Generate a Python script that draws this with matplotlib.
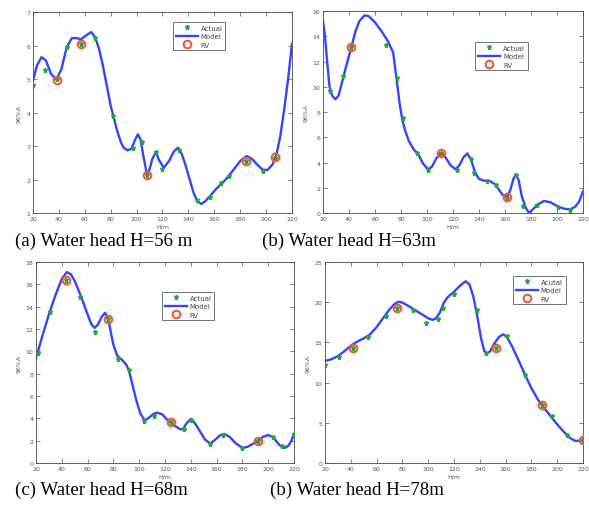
import matplotlib
matplotlib.use("Agg")
import matplotlib.pyplot as plt

# ---------------- data ----------------
# Panel (a) H=56 m
a_act_x = [20, 29, 38.6, 46.6, 56.9, 67.5, 81.9, 96.9, 103.9, 108, 115.2, 119.9, 132.8, 146.5, 156.3, 165.5, 171.5, 184.1, 197.8, 207.1]
a_act_y = [4.82, 5.27, 5.0, 5.97, 6.03, 6.23, 3.91, 2.94, 3.11, 2.13, 2.81, 2.30, 2.88, 1.39, 1.47, 1.89, 2.11, 2.54, 2.26, 2.65]
a_rv_x = [38.6, 57, 108, 184.5, 207]
a_rv_y = [4.97, 6.03, 2.13, 2.56, 2.66]
a_mod_x = [20, 23, 26.5, 30, 34, 38, 42, 46, 50, 54, 57, 61, 65, 68, 71, 74, 77, 80, 82, 85, 88, 90, 93, 96, 99, 101, 103, 105, 108, 110, 112, 115, 117, 121, 125, 129, 132, 135, 138, 141, 144, 147, 150, 153, 157, 161, 165, 170, 175, 180, 185, 189, 193, 197, 201, 205, 208, 211, 214, 217, 220]
a_mod_y = [4.95, 5.4, 5.65, 5.55, 5.15, 4.98, 5.3, 5.95, 6.22, 6.22, 6.18, 6.3, 6.4, 6.25, 5.9, 5.4, 4.8, 4.2, 3.9, 3.45, 3.1, 2.95, 2.87, 2.92, 3.2, 3.35, 3.2, 2.75, 2.15, 2.3, 2.6, 2.83, 2.6, 2.35, 2.55, 2.85, 2.95, 2.75, 2.4, 2.0, 1.6, 1.35, 1.27, 1.35, 1.52, 1.7, 1.85, 2.05, 2.3, 2.55, 2.7, 2.62, 2.45, 2.3, 2.28, 2.45, 2.75, 3.3, 4.1, 5.0, 6.05]

# Panel (b) H=63 m
b_act_x = [25.1, 35.4, 41.9, 68.3, 76.6, 81.2, 92, 101, 110.7, 122.8, 133.6, 136.4, 146, 153.2, 161.6, 168.3, 174.2, 184.5, 200.5, 209.7]
b_act_y = [9.7, 10.85, 13.18, 13.3, 10.67, 7.5, 4.79, 3.41, 4.73, 3.39, 4.31, 3.15, 2.54, 2.25, 1.22, 3.0, 0.57, 0.64, 0.51, 0.25]
b_rv_x = [41.9, 110.7, 161.6]
b_rv_y = [13.15, 4.75, 1.25]
b_mod_x = [20, 21.5, 23, 25, 27, 29.5, 32, 35, 38, 42, 45, 48, 52, 55, 60, 65, 70, 74, 76.5, 79, 81, 83, 86, 90, 93, 97, 101, 104, 107, 110.5, 114, 118, 122, 125, 128, 131, 134, 137, 140, 144, 148, 152, 155, 158, 161.5, 164, 166.5, 168.5, 170.5, 173, 176, 178.5, 181, 185, 190, 195, 200, 205, 210, 214, 217, 220]
b_mod_y = [15.2, 14.0, 12.2, 10.0, 9.3, 9.0, 9.3, 10.5, 11.7, 13.2, 14.4, 15.2, 15.65, 15.6, 15.1, 14.4, 13.6, 12.7, 10.7, 8.6, 7.4, 6.6, 5.7, 5.0, 4.7, 3.9, 3.45, 3.7, 4.3, 4.75, 4.45, 3.8, 3.45, 3.8, 4.4, 4.72, 4.2, 3.2, 2.7, 2.55, 2.55, 2.3, 1.9, 1.45, 1.25, 1.8, 2.7, 3.05, 2.6, 1.3, 0.4, 0.0, 0.25, 0.65, 0.95, 0.85, 0.55, 0.35, 0.28, 0.5, 0.9, 1.7]

# Panel (c) H=68 m
c_act_x = [21.3, 30.6, 43, 54.3, 65.9, 75.5, 83.6, 91.9, 104.1, 111.7, 124.5, 134.9, 140.3, 155, 165.3, 179.5, 191.9, 204, 210.5, 220]
c_act_y = [9.85, 13.52, 16.36, 14.87, 11.73, 12.87, 9.34, 8.36, 3.73, 4.18, 3.64, 3.07, 3.88, 1.73, 2.48, 1.34, 2.0, 2.33, 1.52, 2.6]
c_rv_x = [43, 75.5, 124.5, 191.9]
c_rv_y = [16.4, 12.87, 3.64, 1.98]
c_mod_x = [20, 25, 30, 35, 40, 44, 47, 50, 55, 60, 63, 65.5, 68, 71, 73.5, 76, 78, 80, 83, 87, 90, 92, 95, 98, 101, 104.5, 108, 111, 114, 118, 121, 124, 128, 132, 134, 137, 140, 143, 147, 151, 155, 159, 163, 166, 170, 175, 180, 184, 188, 192, 196, 200, 204, 208, 211, 213, 216, 218, 220]
c_mod_y = [9.4, 11.4, 13.3, 15.0, 16.5, 17.1, 16.9, 16.3, 14.9, 13.3, 12.4, 12.1, 12.4, 13.1, 13.45, 12.9, 11.7, 10.6, 9.6, 9.2, 8.8, 8.3, 6.9, 5.5, 4.4, 3.8, 4.1, 4.4, 4.5, 4.35, 3.95, 3.65, 3.3, 3.0, 3.05, 3.6, 3.95, 3.6, 2.85, 2.1, 1.75, 2.1, 2.5, 2.6, 2.35, 1.75, 1.35, 1.45, 1.7, 2.0, 2.35, 2.5, 2.3, 1.7, 1.4, 1.35, 1.6, 2.0, 2.6]

# Panel (d) H=78 m
d_act_x = [20, 30.8, 41.9, 53, 67.2, 75.5, 87.9, 98, 107.5, 111.6, 119.9, 138, 144.6, 152.4, 161.2, 175.1, 188.3, 196, 207.9, 220]
d_act_y = [12.13, 13.16, 14.33, 15.66, 18.27, 19.31, 19.06, 17.44, 17.94, 19.31, 21.01, 18.98, 13.7, 14.33, 15.74, 10.96, 7.18, 5.81, 3.49, 2.91]
d_rv_x = [41.9, 75.5, 152.4, 188.3, 220]
d_rv_y = [14.33, 19.31, 14.33, 7.18, 2.91]
d_mod_x = [20, 25, 30, 35, 40, 45, 50, 55, 60, 65, 70, 74, 77, 80, 85, 90, 95, 100, 103.5, 106, 109, 112, 115, 120, 125, 129, 132, 135, 138, 141, 143.5, 145.5, 148, 151, 155, 158, 161, 165, 170, 175, 180, 185, 190, 195, 200, 205, 210, 214, 217, 220]
d_mod_y = [12.7, 12.9, 13.3, 13.9, 14.6, 15.1, 15.5, 16.0, 16.9, 18.0, 19.1, 19.8, 20.05, 19.95, 19.5, 19.0, 18.5, 18.0, 17.8, 18.0, 18.7, 19.9, 20.6, 21.3, 22.1, 22.6, 22.2, 20.7, 18.3, 15.5, 13.9, 13.6, 13.9, 14.8, 15.7, 16.0, 15.7, 14.5, 12.8, 11.0, 9.3, 7.9, 6.8, 5.8, 4.8, 3.9, 3.1, 2.75, 2.75, 2.9]

x_ticks = [20, 40, 60, 80, 100, 120, 140, 160, 180, 200, 220]
a_yticks = [1, 2, 3, 4, 5, 6, 7]
b_yticks = [0, 2, 4, 6, 8, 10, 12, 14, 16]
c_yticks = [0, 2, 4, 6, 8, 10, 12, 14, 16, 18]
d_yticks = [0, 5, 10, 15, 20, 25]

captions = ["(a) Water head H=56 m", "(b) Water head H=63m",
            "(c) Water head H=68m", "(b) Water head H=78m"]
actual_labels = ["Actual", "Actual", "Actual", "Acutal"]

# ---------------- figure ----------------
W, H = 589, 510
fig = plt.figure(figsize=(W / 100, H / 100), dpi=100)

def px_axes(l, t, r, b):
    return fig.add_axes([l / W, 1 - b / H, (r - l) / W, (b - t) / H])

panels = [
    dict(box=(33, 13, 292, 214), ylim=(1, 7), yt=a_yticks,
         ax_=a_act_x, ay=a_act_y, rx=a_rv_x, ry=a_rv_y, mx=a_mod_x, my=a_mod_y,
         leg=(0.54, 0.95)),
    dict(box=(323, 12, 583, 214), ylim=(0, 16), yt=b_yticks,
         ax_=b_act_x, ay=b_act_y, rx=b_rv_x, ry=b_rv_y, mx=b_mod_x, my=b_mod_y,
         leg=(0.585, 0.847)),
    dict(box=(36, 263, 294, 464), ylim=(0, 18), yt=c_yticks,
         ax_=c_act_x, ay=c_act_y, rx=c_rv_x, ry=c_rv_y, mx=c_mod_x, my=c_mod_y,
         leg=(0.488, 0.851)),
    dict(box=(325, 263, 583, 464), ylim=(0, 25), yt=d_yticks,
         ax_=d_act_x, ay=d_act_y, rx=d_rv_x, ry=d_rv_y, mx=d_mod_x, my=d_mod_y,
         leg=(0.729, 0.93)),
]

spine_col = "#4a4a4a"
for i, p in enumerate(panels):
    ax = px_axes(*p["box"])
    ax.plot(p["mx"], p["my"], color="#3344ff", lw=1.7, label="Model", zorder=2)
    ax.plot(p["ax_"], p["ay"], ls="none", marker="*", ms=3.6, color="#22a83a",
            mec="#22a83a", label=actual_labels[i], zorder=3)
    ax.plot(p["rx"], p["ry"], ls="none", marker="o", ms=5.5, mfc="none",
            mec="#f0583a", mew=1.5, label="RV", zorder=4)
    ax.set_xlim(20, 220)
    ax.set_ylim(*p["ylim"])
    ax.set_xticks(x_ticks)
    ax.set_yticks(p["yt"])
    ax.tick_params(direction="in", length=3, width=0.5, top=True, right=True,
                   labelsize=4.5, labelcolor="#555555", color=spine_col, pad=2)
    for s in ax.spines.values():
        s.set_color(spine_col)
        s.set_linewidth(0.6)
    ax.set_xlabel("H/m", fontsize=4.5, color="#555555", labelpad=2)
    ax.set_ylabel("96%A", fontsize=4.5, color="#555555", labelpad=3)
    handles, labels = ax.get_legend_handles_labels()
    order = [1, 0, 2]
    leg = ax.legend([handles[k] for k in order], [labels[k] for k in order],
                    loc="upper left", bbox_to_anchor=p["leg"], fontsize=5,
                    frameon=True, fancybox=False, edgecolor="#333333",
                    handlelength=3.2, handletextpad=0.4, borderpad=0.4,
                    labelspacing=0.35, borderaxespad=0)
    leg.get_frame().set_linewidth(0.6)
    for t in leg.get_texts():
        t.set_color("#444444")

cap_pos = [(15, 246), (262, 246), (15, 495), (270, 495)]
for (x, y), txt in zip(cap_pos, captions):
    fig.text(x / W, 1 - y / H, txt, fontsize=13.6, family="Liberation Serif",
             va="baseline", ha="left", color="black")

fig.savefig("out.png", dpi=100)
